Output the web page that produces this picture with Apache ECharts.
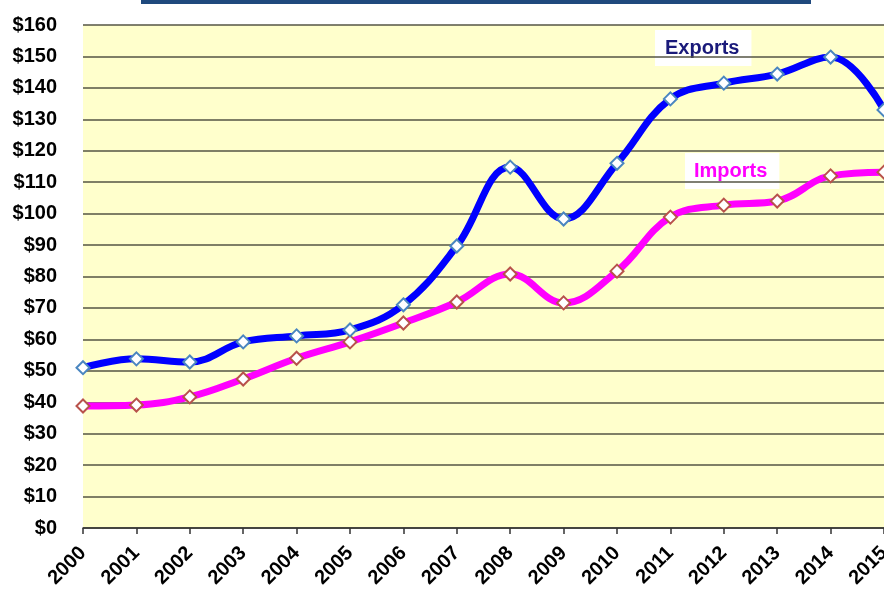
<!DOCTYPE html>
<html>
<head>
  <meta charset="utf-8">
</head>
<body style="margin: 0; background: #fff">
  <div id="container" style="width: 884px; height: 589px"></div>
  <script type="text/javascript" src="https://fastly.jsdelivr.net/npm/echarts@6/dist/echarts.min.js"></script>
  <script type="text/javascript">
    var years = ['2000', '2001', '2002', '2003', '2004', '2005', '2006', '2007',
      '2008', '2009', '2010', '2011', '2012', '2013', '2014', '2015'];
    var exportsData = [51, 53.8, 52.8, 59.2, 61.1, 63, 71, 89.7,
      114.8, 98.3, 116, 136.5, 141.5, 144.4, 149.8, 133];
    var importsData = [38.8, 39.1, 41.7, 47.4, 54, 59.2, 65.2, 71.9,
      80.8, 71.6, 81.7, 98.9, 102.7, 104, 112, 113.2];

    var myChart = echarts.init(document.getElementById('container'), null, { renderer: 'canvas' });
    var option = {
      animation: false,
      grid: {
        left: 83, right: 0, top: 25, bottom: 61, show: true,
        backgroundColor: '#FFFFCC', borderWidth: 0, outerBoundsMode: 'none'
      },
      xAxis: {
        type: 'category',
        data: years,
        boundaryGap: false,
        axisLine: { lineStyle: { color: '#333', width: 1.5 } },
        axisTick: { length: 6, lineStyle: { color: '#333', width: 1.5 } },
        axisLabel: {
          rotate: 45, interval: 0, color: '#000', fontWeight: 'bold',
          fontFamily: 'Liberation Sans', fontSize: 20, margin: 22, hideOverlap: false
        }
      },
      yAxis: {
        type: 'value',
        min: 0, max: 160, interval: 10,
        axisLine: { show: false },
        axisTick: { show: false },
        splitLine: { lineStyle: { color: '#555545', width: 1.5 } },
        axisLabel: {
          color: '#000', fontWeight: 'bold', fontFamily: 'Liberation Sans',
          fontSize: 20, margin: 26, formatter: '${value}'
        }
      },
      graphic: [
        { type: 'rect', left: 141, top: 0, shape: { width: 670, height: 4 }, style: { fill: '#1F497D' } },
        {
          type: 'text', left: 655, top: 30,
          style: {
            text: 'Exports', fill: '#1a1a7a', font: 'bold 20px Liberation Sans',
            backgroundColor: '#fff', padding: [8, 12, 8, 10]
          }
        },
        {
          type: 'text', left: 685, top: 153,
          style: {
            text: 'Imports', fill: '#FF00FF', font: 'bold 20px Liberation Sans',
            backgroundColor: '#fff', padding: [8, 12, 8, 9]
          }
        }
      ],
      series: [
        {
          name: 'Imports', type: 'line', data: importsData, smooth: 0.4,
          lineStyle: { color: '#FF00FF', width: 7 },
          symbol: 'diamond', symbolSize: 13,
          itemStyle: { color: '#fff', borderColor: '#B8524B', borderWidth: 2 }
        },
        {
          name: 'Exports', type: 'line', data: exportsData, smooth: 0.4,
          lineStyle: { color: '#0000FF', width: 7 },
          symbol: 'diamond', symbolSize: 13,
          itemStyle: { color: '#fff', borderColor: '#4A86C0', borderWidth: 2 }
        }
      ]
    };
    myChart.setOption(option);
  </script>
</body>
</html>
